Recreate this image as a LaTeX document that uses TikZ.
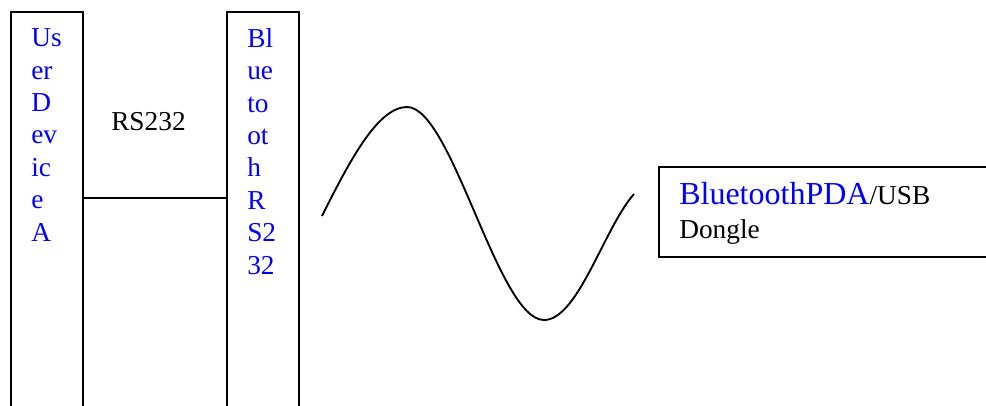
\documentclass[tikz,border=0pt]{standalone}
\usepackage{fontspec}
\setmainfont{Liberation Serif}
\definecolor{wordblue}{RGB}{0,0,255}
\tikzset{
  boxline/.style={draw=black, line width=1.5pt, inner sep=0pt, fill=none},
  bluelabel/.style={text=wordblue, inner sep=0pt, align=left,
    font=\fontsize{20.5}{24.3}\selectfont},
  blacklabel/.style={text=black, inner sep=0pt,
    font=\fontsize{20.5}{24.3}\selectfont},
  wave/.style={draw=black, line width=1.4pt}
}
\begin{document}
\begin{tikzpicture}[x=0.75pt,y=-0.75pt]
\useasboundingbox (0,0) rectangle (986,405);
\clip (0,0) rectangle (986,405);
% left device column
\node[boxline, anchor=north west, minimum width=54pt, minimum height=320pt] (dev) at (10,11) {};
\node[bluelabel, anchor=north west] (devtext) at (31,28.6) {Us\\er\\D\\ev\\ic\\e\\A};
% bluetooth rs232 column
\node[boxline, anchor=north west, minimum width=54pt, minimum height=320pt] (bt) at (226,11) {};
\node[bluelabel, anchor=north west] (bttext) at (247,28) {Bl\\ue\\to\\ot\\h\\R\\S2\\32};
% rs232 link
\coordinate (lvl) at (0,198);
\draw[line width=1.5pt] (dev.east |- lvl) -- (bt.west |- lvl);
\node[blacklabel, anchor=base west] (rs) at (111,130) {RS232};
% wireless wave
\coordinate (w0) at (322,216);
\coordinate (w1) at (407,107);
\coordinate (w2) at (544,320);
\coordinate (w3) at (634,194);
\draw[wave] (w0) .. controls (350,160) and (378,107) .. (w1)
            .. controls (452,107) and (498,320) .. (w2)
            .. controls (578,320) and (604,228) .. (w3);
% PDA / dongle box
\node[boxline, anchor=north west, minimum width=300pt, minimum height=67.5pt] (pda) at (658,166) {};
\node[blacklabel, anchor=base west] (pdatext) at (679,204.3) {\textcolor{wordblue}{\fontsize{24}{28}\selectfont BluetoothPDA}/USB};
\node[blacklabel, anchor=base west] (dongle) at (679,238.3) {Dongle};
\end{tikzpicture}
\end{document}
